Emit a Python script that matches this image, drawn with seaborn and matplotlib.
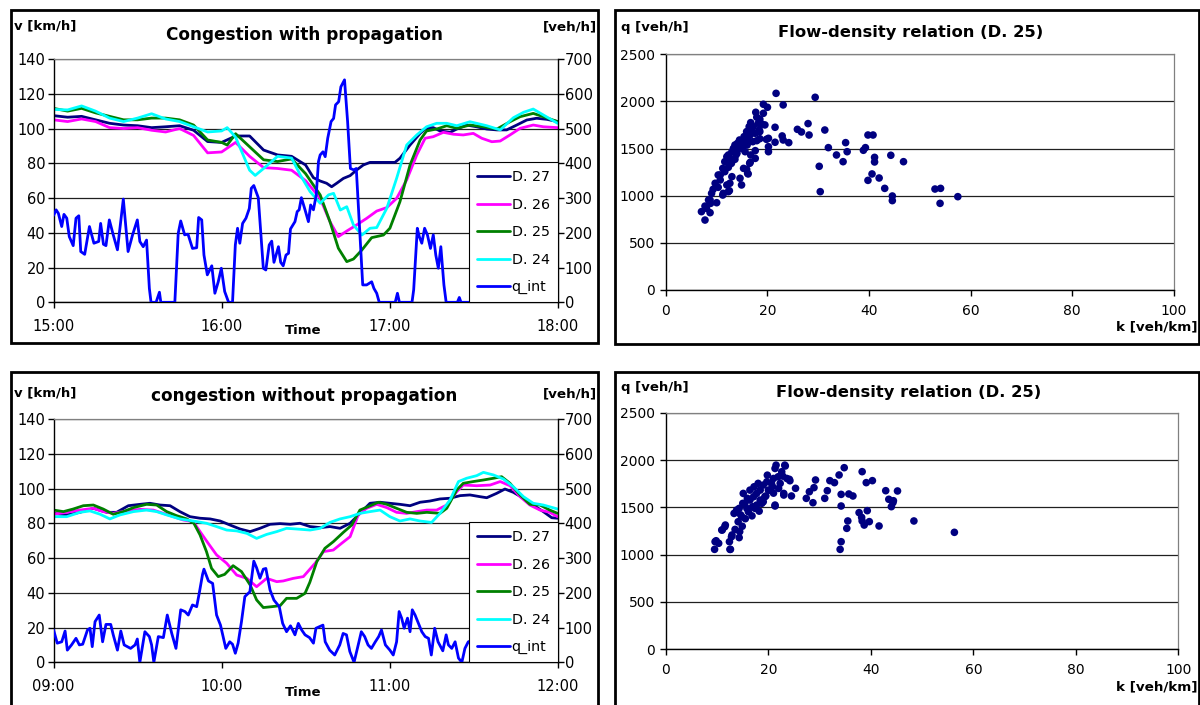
import matplotlib
matplotlib.use("Agg")
import matplotlib.pyplot as plt
from matplotlib.patches import Rectangle
from matplotlib.lines import Line2D
import pandas as pd
import seaborn as sns

sns.set_theme(style="white")
plt.rcParams["font.family"] = ["DejaVu Sans"]
plt.rcParams.update({"text.color": "black", "axes.labelcolor": "black",
                     "xtick.color": "black", "ytick.color": "black"})

# ---------------------------------------------------------------- data
# time in minutes after the start of each 3-hour window, speed in km/h
cwp_t27 = [0, 5, 10, 15, 20, 25, 30, 35, 40, 45, 50, 55, 60, 65, 70, 75, 80, 85, 90, 92.8, 95.2, 97.5,
           99.3, 101.1, 103.5, 105.9, 108.2, 110.6, 113, 116.6, 121.9, 123.7, 127.3, 130.9, 133.2, 135.6,
           138, 141.6, 144, 147.5, 151.1, 154.7, 158.3, 161.8, 165.4, 169, 172.5, 176.1, 180]
cwp_v27 = [107.4, 106.5, 107, 105, 103, 102, 101.6, 100.5, 101, 101.6, 99, 92.5, 92, 95.7, 95.7, 87.6,
           84.8, 84, 79, 71.7, 69.8, 68.5, 66.5, 68.5, 71.3, 72.9, 76.1, 79, 80.5, 80.5, 80.5, 82.9, 90.5,
           97.2, 100.5, 100.5, 98.6, 97.8, 99.7, 102, 101, 99.7, 99.2, 99.2, 102, 104.9, 105.9, 105.3, 104]

cwp_t26 = [0, 5, 10, 15, 20, 25, 30, 35, 40, 45, 50, 55, 60, 65, 70, 75, 80, 85, 90, 95.2, 98.7, 101.7,
           104.7, 108.2, 111.8, 115.4, 119, 122.5, 126.1, 129.7, 132.7, 135.6, 139.2, 142.8, 146.3, 149.9,
           152.9, 156.5, 159.5, 163, 166.6, 171.3, 174.9, 180]
cwp_v26 = [105, 104, 105.5, 104, 100.5, 100, 100.5, 99, 98, 100, 96, 86, 86.5, 92, 84, 77.5, 77, 76, 70,
           59.8, 46.4, 37.8, 41, 44.5, 48.3, 52.5, 54.5, 59.8, 70.4, 84.8, 94.4, 95.3, 97.8, 96.7, 96.3,
           97.2, 94.4, 92.4, 92.8, 96.3, 100.1, 102, 101, 100.5]

cwp_t25 = [0, 5, 10, 15, 20, 25, 30, 35, 40, 45, 50, 55, 60, 62, 65, 70, 75, 80, 85, 90, 95.2, 98.7,
           101.7, 104.7, 107.1, 110.1, 113.6, 117.8, 120.1, 123.7, 127.3, 130.9, 133.2, 136.8, 140.4, 144,
           148.7, 153.5, 158.3, 163, 166.6, 171.3, 174.9, 180]
cwp_v25 = [111.6, 110, 111.6, 109, 107, 105, 105, 106, 106, 105, 102, 93.4, 92, 90.5, 97, 89.5, 82, 81,
           82.5, 74, 61.8, 46.4, 31.1, 23.4, 24.9, 30.1, 37.2, 38.7, 42.6, 57.9, 79, 93.4, 98.6, 99.7,
           101.6, 100.1, 102, 101, 99.7, 103.9, 106.8, 108.7, 106.8, 104]

cwp_t24 = [0, 5, 10, 15, 20, 25, 30, 35, 40, 45, 50, 55, 60, 62, 65, 70, 72, 75, 80, 85, 88, 91.6, 95.2,
           98.2, 100, 102.4, 104.7, 107.1, 110.1, 113, 115.4, 119, 122.5, 126.1, 129.7, 133.2, 136.8, 140.4,
           144, 148.7, 154.7, 159.5, 164.2, 167.8, 171.3, 174.9, 180]
cwp_v24 = [111, 110.7, 113, 110, 106, 104, 106, 108.5, 105.5, 104, 101, 98, 98.6, 100.5, 95, 76, 73, 77,
           84, 83, 73.6, 63.7, 57, 61.8, 62.7, 53.1, 55, 44.5, 38.7, 42.6, 43, 54.1, 71.3, 90.5, 96.3, 101,
           103, 103, 101.6, 103.9, 101.6, 99.2, 106.2, 109.3, 111.2, 107.8, 103]

# intensity q_int in veh/h
cwp_tq = [0, 0.9, 1.7, 2.9, 3.7, 4.7, 5.6, 7.0, 8.0, 9.0, 9.7, 11.1, 12.8, 14.4, 16.1, 16.8, 17.8, 18.7,
          19.9, 21.3, 22.8, 24.9, 26.6, 28.2, 29.9, 30.8, 32.0, 33.2, 34.2, 34.8, 36.6, 37.8, 38.3, 43.3,
          44.5, 45.4, 46.8, 48.0, 49.6, 51.1, 51.8, 52.9, 53.7, 54.9, 56.5, 57.6, 58.8, 59.9, 61.1, 62.5,
          63.9, 64.9, 65.7, 66.5, 67.5, 68.7, 69.9, 70.6, 71.5, 73.1, 74.9, 75.8, 77.0, 77.9, 78.7, 80.3,
          81.1, 82.0, 83.0, 83.9, 84.6, 86.2, 87.0, 87.7, 88.5, 89.8, 91.0, 91.8, 92.8, 93.8, 94.6, 95.2,
          96.2, 97.0, 97.9, 99.1, 100.0, 100.7, 101.8, 102.6, 103.9, 105.0, 106.0, 107.2, 108.1, 110.4,
          111.8, 113.6, 114.4, 115.4, 116.3, 122.0, 122.8, 123.5, 128.0, 128.6, 129.9, 130.6, 131.5,
          132.5, 133.5, 134.6, 135.6, 136.5, 137.4, 138.3, 139.4, 140.2, 144.2, 144.9, 145.5, 180]
cwp_q = [250, 266, 256, 218, 253, 242, 189, 163, 242, 249, 146, 138, 218, 170, 175, 227, 167, 163, 237,
         194, 151, 297, 146, 194, 237, 175, 160, 179, 40, 0, 0, 29, 0, 0, 198, 234, 194, 196, 155, 157,
         244, 237, 136, 79, 105, 26, 59, 98, 31, 0, 0, 165, 213, 170, 227, 242, 270, 328, 336, 301, 98,
         93, 165, 176, 115, 160, 115, 105, 136, 141, 211, 232, 261, 266, 301, 266, 232, 280, 266, 309,
         405, 424, 433, 419, 472, 520, 529, 568, 577, 620, 640, 520, 385, 381, 385, 50, 50, 59, 40, 26,
         0, 0, 26, 0, 0, 36, 213, 189, 170, 213, 194, 155, 194, 136, 98, 160, 50, 0, 0, 14, 0, 0]

cnp_t27 = [0, 4.7, 9.4, 14.2, 19.0, 22.5, 26.7, 30.9, 34.4, 38.0, 41.6, 45.1, 48.7, 52.3, 55.9, 59.5, 63.0,
           66.6, 70.2, 73.7, 77.3, 80.9, 84.5, 88.0, 91.6, 95.2, 98.7, 102.3, 105.9, 109.4, 113.0, 116.6,
           120.1, 123.7, 127.3, 130.9, 134.4, 138.0, 141.6, 145.2, 148.7, 152.3, 154.7, 158.2, 161.2,
           164.2, 167.8, 171.3, 174.9, 177.9, 180]
cnp_v27 = [85.7, 84.8, 86.3, 88.6, 86.3, 86.3, 90.1, 90.9, 91.5, 90.5, 90.1, 86.7, 83.8, 82.9, 82.5, 81.3,
           79, 76.7, 75.2, 77.1, 79.4, 79.8, 79.4, 80, 78.1, 77.5, 78.1, 77.1, 80, 85.7, 91.5, 92.1, 91.5,
           90.9, 90.1, 92.1, 92.8, 94, 94.4, 95.9, 96.3, 95.3, 94.7, 97.2, 99.7, 97.8, 94.4, 90.5, 86.7,
           83.2, 82.9]

cnp_t26 = [0, 4.7, 9.4, 14.2, 17.7, 21.3, 26.0, 30.9, 35.6, 39.2, 42.8, 46.3, 49.9, 52.3, 55.2, 58.2, 61.8,
           65.4, 69.0, 72.5, 76.1, 79.7, 82.0, 85.6, 89.2, 93.4, 96.4, 99.9, 102.9, 105.9, 108.8, 111.8,
           115.4, 119.0, 122.5, 126.1, 129.7, 133.3, 136.8, 140.4, 144.0, 146.3, 151.1, 155.9, 159.5,
           163.0, 166.6, 170.1, 173.7, 177.2, 180]
cnp_v26 = [85.2, 86.3, 87.6, 88.6, 86.7, 85.7, 87.1, 88, 87.6, 85.7, 83.8, 81.9, 80.9, 75.2, 68.5, 61.8,
           57, 50.2, 48.3, 43.5, 48.3, 46.4, 46.8, 48.3, 49.3, 57, 63.7, 64.6, 68.5, 72.3, 84.8, 88.6,
           90.9, 89, 86.3, 85.7, 86.7, 87.6, 87.6, 90.5, 98.2, 102, 101.6, 102, 104, 101.6, 95.3, 90.5,
           87.6, 86.3, 83.8]

cnp_t25 = [0, 3.5, 7.0, 10.6, 14.2, 17.7, 21.3, 24.9, 28.5, 33.2, 36.8, 40.4, 43.9, 47.6, 50.1, 52.3, 54.6,
           56.4, 58.8, 61.1, 64.1, 67.1, 70.2, 72.5, 74.9, 77.9, 80.9, 83.2, 86.8, 89.8, 91.5, 94.0, 96.9,
           99.9, 103.5, 106.5, 109.4, 112.4, 116.0, 119.0, 122.5, 126.1, 129.7, 133.3, 138.0, 140.4,
           144.0, 146.3, 149.9, 153.5, 157.1, 160.0, 163.0, 166.6, 170.1, 173.7, 177.2, 180]
cnp_v25 = [87.6, 86.7, 88.2, 90.1, 90.5, 88.2, 85.2, 86.7, 89, 90.9, 90.5, 86.7, 84.4, 82.5, 80, 73.3, 63.7,
           54.1, 49.3, 50.6, 55.6, 52.2, 44.5, 35.9, 31.5, 32, 32.6, 36.8, 36.8, 39.7, 46, 57.9, 65.6, 69.4,
           74.8, 79, 87.6, 89.6, 92.1, 90.9, 88.6, 86.3, 85.7, 86.3, 85.7, 88.6, 99.2, 103, 104, 104.9,
           105.9, 106.8, 103, 96.3, 90.9, 90.5, 87.6, 85.7]

cnp_t24 = [0, 4.7, 9.4, 13, 16.6, 20.1, 23.7, 28.5, 33.2, 36.8, 40.4, 45.1, 49.9, 54.6, 58.2, 61.8, 65.4,
           69.0, 72.5, 76.1, 79.7, 83.2, 86.8, 91.6, 95.2, 98.7, 102.3, 105.9, 109.4, 113.0, 116.6, 120.1,
           123.7, 127.3, 130.9, 135.0, 138.0, 141.6, 144.6, 147.5, 151.1, 153.5, 157.1, 160.6, 164.2,
           167.8, 171.3, 174.9, 180]
cnp_v24 = [83.8, 83.8, 86.3, 87.1, 85.2, 82.5, 84.8, 86.7, 87.6, 86.7, 84.8, 82.5, 81.3, 80, 78.1, 76.1,
           75.6, 74.2, 71.3, 73.6, 75.2, 77.1, 76.7, 76.1, 77.1, 80.5, 82.5, 83.8, 85.7, 86.7, 87.6, 83.8,
           81.3, 82.5, 81.3, 80.5, 85.7, 93.4, 104, 105.9, 107.4, 109.3, 107.8, 105.5, 101, 95.3, 91.5,
           90.5, 88.2]

cnp_tq = [0, 1.3, 2.9, 4.1, 4.9, 6.4, 8.0, 9.2, 10.4, 12.1, 13.0, 13.8, 14.8, 16.3, 17.5, 18.7, 20.4, 21.3,
          22.8, 24.0, 25.2, 27.5, 29.1, 29.9, 30.8, 32.6, 34.2, 35.0, 35.8, 37.4, 39.2, 40.6, 42.2, 43.7,
          45.4, 46.9, 48.1, 49.6, 51.1, 52.0, 53.2, 53.7, 55.3, 56.8, 58.2, 59.6, 61.5, 62.9, 63.9, 64.9,
          65.9, 67.1, 68.3, 70.1, 71.5, 72.5, 73.7, 74.9, 75.8, 77.3, 78.7, 80.6, 81.8, 83.2, 84.6, 86.2,
          87.4, 88.6, 89.8, 91.4, 92.8, 93.7, 96.2, 97.0, 98.6, 100.4, 102.2, 103.4, 104.6, 105.8, 107.3,
          108.5, 109.9, 111.1, 112.3, 113.5, 114.9, 116.1, 117.1, 118.5, 120.1, 121.3, 122.5, 123.4, 124.3,
          125.2, 126.4, 127.3, 128.1, 129.1, 130.3, 131.5, 132.7, 133.9, 134.9, 136.1, 137.3, 139.0,
          140.2, 141.0, 142.2, 143.4, 144.6, 145.8, 146.9, 148.1, 152, 156, 160, 165, 170, 175, 180]
cnp_q = [93, 55, 59, 90, 35, 50, 69, 50, 52, 93, 98, 45, 117, 136, 59, 109, 109, 79, 35, 90, 50, 40, 50,
         67, 0, 88, 74, 50, 0, 74, 71, 136, 83, 40, 151, 146, 136, 165, 160, 198, 253, 268, 234, 227, 136,
         107, 40, 59, 52, 26, 55, 117, 189, 203, 291, 272, 242, 268, 270, 208, 179, 160, 112, 88, 105, 79,
         112, 93, 79, 71, 55, 98, 107, 59, 35, 21, 50, 83, 79, 31, 0, 40, 88, 74, 50, 40, 59, 74, 93, 50,
         35, 21, 59, 146, 127, 98, 127, 88, 151, 136, 112, 88, 74, 69, 21, 98, 59, 33, 79, 50, 40, 59, 12,
         0, 40, 59, 70, 50, 85, 60, 75, 55, 85]

# flow-density points of detector 25: density k in veh/km, flow q in veh/h
fd1_k = [7.7, 7.0, 8.7, 7.7, 8.4, 10.0, 9.0, 9.3, 11.2, 10.3, 12.5, 9.7, 10.7, 12.0, 12.6, 14.9, 14.6,
         16.2, 10.7, 11.6, 12.3, 11.6, 12.9, 13.6, 15.9, 15.3, 16.6, 12.3, 13.0, 13.9, 14.6, 13.6, 15.3,
         16.2, 17.6, 17.1, 17.9, 16.6, 17.6, 18.5, 17.2, 18.2, 16.7, 17.9, 18.5, 19.2, 17.7, 19.5, 19.8,
         18.4, 16.4, 15.9, 15.4, 14.5, 14.1, 13.3, 12.0, 11.2, 10.3, 12.6, 13.8, 16.7, 17.6, 18.5, 15.6,
         16.0, 8.7, 8.0, 8.8, 11.3, 12.3, 13.0, 16.5, 16.1, 14.0, 15.0, 16.9, 18.9,
         21.7, 23.1, 29.4, 19.2, 20.0, 21.5, 22.9, 23.1, 24.2, 21.5, 20.2, 20.2, 20.2, 25.9, 26.7, 28.0,
         28.2, 31.3, 32.0, 33.6, 34.9, 35.4, 35.7, 30.2, 30.4, 38.9, 39.3, 39.8, 40.8, 41.1, 41.1, 40.6,
         39.8, 42.0, 43.1, 44.3, 44.6, 44.6, 46.8, 53.0, 54.1, 54.0, 57.5]
fd1_q = [742, 831, 820, 890, 955, 926, 1025, 1068, 1007, 1089, 1053, 1132, 1167, 1114, 1132, 1114, 1185,
         1231, 1220, 1255, 1301, 1361, 1343, 1386, 1280, 1290, 1354, 1432, 1467, 1485, 1520, 1538, 1556,
         1591, 1478, 1573, 1584, 1644, 1662, 1680, 1733, 1768, 1775, 1832, 1811, 1874, 1885, 1751, 1598,
         1697, 1733, 1680, 1627, 1591, 1556, 1502, 1414, 1290, 1220, 1396, 1432, 1432, 1396, 1605, 1467,
         1538, 955, 866, 919, 1025, 1043, 1202, 1344, 1238, 1450, 1500, 1700, 1760,
         2086, 1963, 2044, 1970, 1938, 1726, 1634, 1591, 1563, 1567, 1609, 1520, 1467, 1704, 1676, 1765,
         1644, 1697, 1510, 1432, 1361, 1563, 1467, 1312, 1043, 1482, 1510, 1644, 1644, 1407, 1358, 1231,
         1163, 1188, 1078, 1429, 997, 948, 1361, 1071, 1078, 919, 990]

fd2_k = [9.5, 9.6, 10.3, 11.0, 11.6, 12.5, 12.4, 12.9, 14.3, 14.4, 9.8, 10.9, 11.5, 12.6, 12.8, 13.5,
         13.3, 14.1, 14.8, 14.3, 15.0, 15.9, 15.4, 16.4, 16.1, 16.9, 17.7, 18.4, 18.0, 19.0, 19.7, 20.0,
         21.0, 21.3, 21.5, 23.2, 22.6, 23.6, 24.2, 23.0, 21.3, 18.7, 17.4, 18.4, 19.3, 20.3, 20.6, 21.9,
         22.3, 15.1, 16.4, 17.2, 13.8, 17.1, 15.8, 17.7, 19.0, 14.6, 15.5, 16.8, 18.2, 19.5, 20.8, 22.0,
         21.0, 19.8, 22.8, 14.9,
         21.3, 23.0, 23.3, 24.1, 24.5, 25.3, 27.4, 28.0, 28.7, 28.9, 29.2, 31.0, 31.5, 32.0, 32.9, 33.8,
         34.2, 34.2, 34.2, 34.0, 34.8, 35.5, 35.3, 35.7, 36.5, 37.7, 38.2, 38.3, 38.3, 38.7, 39.1, 39.3,
         39.7, 40.3, 41.6, 42.9, 43.5, 44.0, 44.3, 44.4, 45.2, 48.4, 56.3]
fd2_q = [1056, 1137, 1120, 1261, 1313, 1056, 1137, 1208, 1180, 1243, 1147, 1260, 1295, 1056, 1189, 1267,
         1436, 1348, 1401, 1489, 1542, 1595, 1542, 1577, 1453, 1506, 1647, 1682, 1753, 1735, 1770, 1682,
         1805, 1911, 1946, 1946, 1876, 1805, 1781, 1647, 1524, 1542, 1489, 1577, 1612, 1682, 1753, 1823,
         1753, 1647, 1682, 1717, 1471, 1612, 1489, 1524, 1559, 1420, 1380, 1410, 1460, 1620, 1720, 1700,
         1650, 1840, 1830, 1300,
         1514, 1630, 1937, 1796, 1620, 1701, 1595, 1665, 1549, 1708, 1789, 1595, 1676, 1782, 1761, 1842,
         1637, 1514, 1137, 1056, 1919, 1356, 1278, 1641, 1620, 1444, 1394, 1877, 1356, 1313, 1761, 1465,
         1349, 1782, 1303, 1676, 1585, 1507, 1549, 1570, 1673, 1356, 1236]

DETECTORS = ["D. 27", "D. 26", "D. 25", "D. 24"]
PALETTE = {"D. 27": "#000080", "D. 26": "#FF00FF", "D. 25": "#008000", "D. 24": "#00FFFF"}
Q_COLOR = "#0000FF"
DOT_COLOR = "#000080"

# ---------------------------------------------------------------- figure
W, H = 1200, 705
fig = plt.figure(figsize=(W / 100, H / 100), dpi=100)


def rect_px(x0, y0, x1, y1):
    """pixel box measured from the top-left corner -> figure fraction rect"""
    return [x0 / W, 1 - y1 / H, (x1 - x0) / W, (y1 - y0) / H]


def ftext(x, y, s, **kw):
    fig.text(x / W, 1 - y / H, s, **kw)


def frame(x0, y0, x1, y1):
    fig.add_artist(Rectangle((x0 / W, 1 - y1 / H), (x1 - x0) / W, (y1 - y0) / H,
                             transform=fig.transFigure, fill=False, edgecolor="black", lw=2.0))


def speed_panel(rect, series, q_t, q_v, hour0):
    ax = fig.add_axes(rect)
    df = pd.concat([pd.DataFrame({"minute": t, "speed": v, "detector": name})
                    for name, (t, v) in series.items()], ignore_index=True)
    sns.lineplot(data=df, x="minute", y="speed", hue="detector", hue_order=DETECTORS,
                 palette=PALETTE, estimator=None, linewidth=2.0, legend=False, ax=ax)
    ax.set_xlim(0, 180)
    ax.set_ylim(0, 140)
    ax.set_yticks(range(0, 141, 20))
    ax.set_xticks([0, 60, 120, 180])
    ax.set_xticklabels([f"{hour0 + i:02d}:00" for i in range(4)])
    ax.set_xlabel("")
    ax.set_ylabel("")
    ax.set_axisbelow(True)
    ax.yaxis.grid(True, color="#202020", lw=0.9)
    ax.xaxis.grid(False)
    for side in ("left", "bottom"):
        ax.spines[side].set_color("black")
        ax.spines[side].set_linewidth(1.0)
    ax.spines["top"].set_color("#808080")
    ax.spines["top"].set_linewidth(0.9)
    ax.spines["right"].set_visible(False)
    ax.tick_params(axis="y", left=True, direction="out", length=4, width=1, pad=2, labelsize=10.5)
    ax.tick_params(axis="x", bottom=True, direction="out", length=4, width=1, pad=8, labelsize=10.5)

    ax2 = ax.twinx()
    sns.lineplot(x=q_t, y=q_v, color=Q_COLOR, estimator=None, linewidth=2.0, ax=ax2)
    ax2.set_ylim(0, 700)
    ax2.set_yticks(range(0, 701, 100))
    ax2.set_xlim(0, 180)
    for side in ("left", "top", "bottom"):
        ax2.spines[side].set_visible(False)
    ax2.spines["right"].set_color("black")
    ax2.spines["right"].set_linewidth(1.0)
    ax2.tick_params(axis="y", right=True, direction="out", length=4, width=1, pad=1, labelsize=10.5)
    ax2.grid(False)

    handles = [Line2D([], [], color=PALETTE[d], lw=2.0) for d in DETECTORS]
    handles.append(Line2D([], [], color=Q_COLOR, lw=2.0))
    leg = ax2.legend(handles, DETECTORS + ["q_int"], loc="lower right", bbox_to_anchor=(1.0, 0.0),
                     borderaxespad=0, frameon=True, fancybox=False, framealpha=1, edgecolor="black",
                     fontsize=10.3, handlelength=2.3, handletextpad=0.15, labelspacing=0.95,
                     borderpad=0.55)
    leg.get_frame().set_linewidth(0.8)
    return ax


def density_panel(rect, k, q):
    ax = fig.add_axes(rect)
    sns.scatterplot(x=k, y=q, color=DOT_COLOR, s=30, edgecolor="none", linewidth=0, ax=ax)
    ax.set_xlim(0, 100)
    ax.set_ylim(0, 2500)
    ax.set_xticks(range(0, 101, 20))
    ax.set_yticks(range(0, 2501, 500))
    ax.set_axisbelow(True)
    ax.yaxis.grid(True, color="#202020", lw=0.9)
    ax.xaxis.grid(False)
    for side in ("left", "bottom"):
        ax.spines[side].set_color("black")
        ax.spines[side].set_linewidth(1.0)
    for side in ("top", "right"):
        ax.spines[side].set_color("#808080")
        ax.spines[side].set_linewidth(0.9)
    ax.tick_params(axis="y", left=True, direction="out", length=4, width=1, pad=4, labelsize=10)
    ax.tick_params(axis="x", bottom=True, direction="out", length=4, width=1, pad=6, labelsize=10)
    return ax


# panel frames
frame(11, 10, 598, 343)
frame(615, 10, 1199, 344)
frame(11, 372, 598, 712)
frame(615, 372, 1199, 712)

speed_panel(rect_px(53.6, 59, 557.6, 302.3),
            {"D. 27": (cwp_t27, cwp_v27), "D. 26": (cwp_t26, cwp_v26),
             "D. 25": (cwp_t25, cwp_v25), "D. 24": (cwp_t24, cwp_v24)},
            cwp_tq, cwp_q, 15)
speed_panel(rect_px(53.6, 419, 557.6, 662.3),
            {"D. 27": (cnp_t27, cnp_v27), "D. 26": (cnp_t26, cnp_v26),
             "D. 25": (cnp_t25, cnp_v25), "D. 24": (cnp_t24, cnp_v24)},
            cnp_tq, cnp_q, 9)
density_panel(rect_px(665.9, 54.3, 1173.6, 290), fd1_k, fd1_q)
density_panel(rect_px(665.9, 412.7, 1178.3, 649.3), fd2_k, fd2_q)

bold = dict(fontweight="bold", va="center")
# time-series annotations
ftext(14, 26, "v [km/h]", fontsize=9.5, ha="left", **bold)
ftext(597, 27, "[veh/h]", fontsize=9.7, ha="right", **bold)
ftext(304, 35, "Congestion with propagation", fontsize=12.2, ha="center", **bold)
ftext(303, 330, "Time", fontsize=9.5, ha="center", **bold)

ftext(14, 393, "v [km/h]", fontsize=9.5, ha="left", **bold)
ftext(597, 394, "[veh/h]", fontsize=9.7, ha="right", **bold)
ftext(304, 396, "congestion without propagation", fontsize=12.2, ha="center", **bold)
ftext(303, 693, "Time", fontsize=9.5, ha="center", **bold)

# flow-density annotations
ftext(621, 27, "q [veh/h]", fontsize=9.5, ha="left", **bold)
ftext(911, 32, "Flow-density relation (D. 25)", fontsize=11.8, ha="center", **bold)
ftext(1198, 327, "k [veh/km]", fontsize=9.7, ha="right", **bold)

ftext(621, 387, "q [veh/h]", fontsize=9.5, ha="left", **bold)
ftext(909, 392, "Flow-density relation (D. 25)", fontsize=11.8, ha="center", **bold)
ftext(1198, 687, "k [veh/km]", fontsize=9.7, ha="right", **bold)

fig.savefig("out.png", dpi=100)
